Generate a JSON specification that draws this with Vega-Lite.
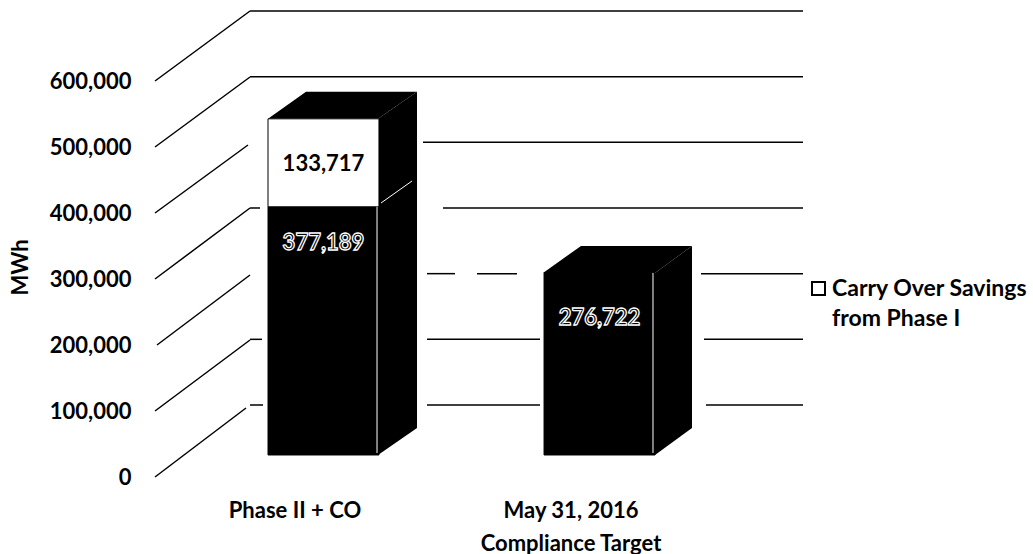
{
"$schema":"https://vega.github.io/schema/vega-lite/v6.json",
"width":1033,"height":554,"padding":0,"autosize":{"type":"none"},
"background":"white",
"config":{"view":{"stroke":null},"text":{"font":"Lato"},"font":"Lato"},
"datasets":{
"wall":[
{"level":600000,"from":-0.2635,"to":1.7329},
{"level":500000,"from":-0.2635,"to":1.7329},
{"level":400000,"from":0.361,"to":1.7329},
{"level":300000,"from":-0.2635,"to":-0.2274},
{"level":300000,"from":0.4332,"to":1.7329},
{"level":200000,"from":0.3755,"to":0.4765},
{"level":200000,"from":0.556,"to":0.7004},
{"level":200000,"from":1.3646,"to":1.7329},
{"level":100000,"from":-0.2635,"to":-0.2202},
{"level":100000,"from":0.3755,"to":0.7834},
{"level":100000,"from":1.3755,"to":1.7329},
{"level":0,"from":-0.2635,"to":-0.2166},
{"level":0,"from":0.3755,"to":0.7834},
{"level":0,"from":1.3827,"to":1.7329}
],
"diagonals":[
{"level":0,"back":104545,"from":-0.6065,"to":-0.278},
{"level":100000,"back":207576,"from":-0.6065,"to":-0.2635},
{"level":200000,"back":306060,"from":-0.5993,"to":-0.2635},
{"level":300000,"back":407576,"from":-0.6065,"to":-0.2635},
{"level":400000,"back":503030,"from":-0.6065,"to":-0.2708},
{"level":500000,"back":606060,"from":-0.6065,"to":-0.2635},
{"level":600000,"back":706060,"from":-0.6065,"to":-0.2635}
],
"faces":[
{"face":"side1","pos":0.1986,"low":0,"high":510906},
{"face":"side1","pos":0.3394,"low":41000,"high":551906},
{"face":"top1","pos":-0.1986,"low":510906,"high":510906},
{"face":"top1","pos":-0.0614,"low":510906,"high":551906},
{"face":"top1","pos":0.1986,"low":510906,"high":551906},
{"face":"top1","pos":0.3394,"low":551906,"high":551906},
{"face":"side2","pos":1.1986,"low":0,"high":276722},
{"face":"side2","pos":1.3321,"low":41000,"high":317722},
{"face":"top2","pos":0.7942,"low":276722,"high":276722},
{"face":"top2","pos":0.9314,"low":276722,"high":317722},
{"face":"top2","pos":1.1986,"low":276722,"high":317722},
{"face":"top2","pos":1.3321,"low":317722,"high":317722}
],
"edges":[
{"from":0.195,"to":0.195,"low":3000,"high":377189},
{"from":1.1913,"to":1.1913,"low":3000,"high":276722},
{"from":0.2094,"to":0.3213,"low":382979,"high":416413}
],
"bars":[
{"category":"Phase II + CO","series":"Phase II","rank":1,"value":377189},
{"category":"Phase II + CO","series":"Carry Over Savings from Phase I","rank":2,"value":133717},
{"category":"May 31, 2016 Compliance Target","series":"Phase II","rank":1,"value":276722}
]
},
"layer":[
{"data":{"name":"wall"},"mark":{"type":"rule","color":"black","strokeWidth":1.5},
 "encoding":{
  "x":{"field":"from","type":"quantitative","axis":null,"scale":{"domain":[-1.1661,2.5632],"nice":false,"zero":false}},
  "x2":{"field":"to"},
  "y":{"field":"level","type":"quantitative","axis":null,"scale":{"domain":[-226892,616720],"nice":false,"zero":false}}
 }},
{"data":{"name":"diagonals"},"mark":{"type":"rule","color":"black","strokeWidth":1.5},
 "encoding":{
  "x":{"field":"from","type":"quantitative","axis":null,"scale":{"domain":[-1.1661,2.5632],"nice":false,"zero":false}},
  "x2":{"field":"to"},
  "y":{"field":"level","type":"quantitative","scale":{"domain":[-116667,722727],"nice":false,"zero":false},
   "axis":{"values":[0,100000,200000,300000,400000,500000,600000],"format":",d","domain":false,"ticks":false,"grid":false,"offset":-135,"labelPadding":4,
    "labelFont":"Lato","labelFontWeight":"bold","labelFontSize":22,"labelColor":"black","labelOffset":1,
    "title":"MWh","titleFont":"Lato","titleFontWeight":"bold","titleFontSize":22,"titleColor":"black","titleX":-103,"titleY":267,"titleAngle":270}},
  "y2":{"field":"back"}
 }},
{"data":{"name":"faces"},"mark":{"type":"area","color":"black","line":false},
 "encoding":{
  "x":{"field":"pos","type":"quantitative","axis":null,"scale":{"domain":[-1.1661,2.5632],"nice":false,"zero":false}},
  "y":{"field":"high","type":"quantitative","axis":null,"scale":{"domain":[-150456,691489],"nice":false,"zero":false}},
  "y2":{"field":"low"},
  "detail":{"field":"face"}
 }},
{"data":{"name":"bars"},
 "transform":[{"stack":"value","groupby":["category"],"sort":[{"field":"rank","order":"ascending"}],"as":["y0","y1"]}],
 "encoding":{
  "x":{"field":"category","type":"nominal","sort":null,
   "scale":{"type":"band","paddingInner":0.598,"paddingOuter":0,"range":[268,655]},
   "axis":{"title":null,"domain":false,"ticks":false,"grid":false,"labelAngle":0,"offset":-64,"labelPadding":10,
    "labelFont":"Lato","labelFontWeight":"bold","labelFontSize":22,"labelColor":"black","labelLineHeight":33,"labelLimit":300,
    "labelOffset":-28.5,
    "labelExpr":"datum.value==='Phase II + CO'?datum.value:['May 31, 2016','Compliance Target']"}},
  "y":{"field":"y1","type":"quantitative","axis":null,"scale":{"domain":[-150456,691489],"nice":false,"zero":false}}
 },
 "layer":[
  {"mark":{"type":"bar","stroke":"black","strokeWidth":1},
   "encoding":{
    "y2":{"field":"y0"},
    "fill":{"field":"series","type":"nominal","scale":{"domain":["Phase II","Carry Over Savings from Phase I"],"range":["black","white"]},
     "legend":{"title":null,"orient":"none","legendX":807,"legendY":277,"values":["Carry Over Savings from Phase I"],"symbolType":"square","symbolSize":169,"symbolStrokeColor":"black","symbolStrokeWidth":2,
      "labelFont":"Lato","labelFontWeight":"bold","labelFontSize":23,"labelColor":"black","labelLimit":240,"labelOffset":2,
      "labelExpr":"['Carry Over Savings','from Phase I']",
      "encode":{"labels":{"update":{"lineHeight":{"value":30}}}}}}
   }},
  {"transform":[{"filter":"datum.value===133717"}],"mark":{"type":"text","font":"Lato","fontWeight":"bold","fontSize":22,"fill":"black","dy":45,"baseline":"middle"},
   "encoding":{"text":{"field":"value","format":","}}},
  {"transform":[{"filter":"datum.value===377189"}],"mark":{"type":"text","font":"Lato","fontWeight":"bold","fontSize":22,"fill":"black","stroke":"white","strokeWidth":1.3,"dy":36,"baseline":"middle"},
   "encoding":{"text":{"field":"value","format":","}}},
  {"transform":[{"filter":"datum.value===276722"}],"mark":{"type":"text","font":"Lato","fontWeight":"bold","fontSize":22,"fill":"black","stroke":"white","strokeWidth":1.3,"dy":45,"baseline":"middle"},
   "encoding":{"text":{"field":"value","format":","}}}
 ]},
{"data":{"name":"edges"},"mark":{"type":"rule","color":"white","strokeWidth":1},
 "encoding":{
  "x":{"field":"from","type":"quantitative","axis":null,"scale":{"domain":[-1.1661,2.5632],"nice":false,"zero":false}},
  "x2":{"field":"to"},
  "y":{"field":"low","type":"quantitative","axis":null,"scale":{"domain":[-150456,691489],"nice":false,"zero":false}},
  "y2":{"field":"high"}
 }}
],
"resolve":{"scale":{"x":"independent","y":"independent","fill":"independent"},"axis":{"x":"independent","y":"independent"}}
}
